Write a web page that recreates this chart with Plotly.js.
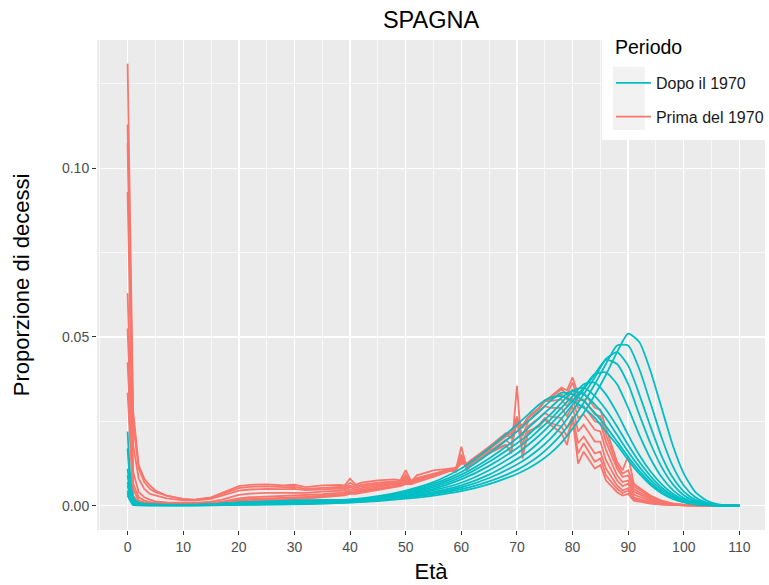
<!DOCTYPE html>
<html>
<head>
<meta charset="utf-8">
<script src="https://cdn.plot.ly/plotly-3.0.1.min.js"></script>
<style>html,body{margin:0;padding:0;overflow:hidden;background:#fff;}#chart{width:769px;height:585px;}</style>
</head>
<body>
<div id="chart"></div>
<script>
// Ages (x) for the "Prima del 1970" series
const etaPrima = [0,1,2,3,4,5,7,10,12,15,17,20,22,25,28,30,32,35,38,39,40,41,42,45,48,49,50,51,52,55,58,59,60,61,62,65,68,69,70,71,72,74,75,76,78,79,80,81,82,84,85,86,88,89,90,91,92,94,96,98,100,102,105,110];
const prima1 = [0.131,0.028,0.012,0.008,0.006,0.0045,0.003,0.002,0.0018,0.0025,0.0038,0.0058,0.0062,0.0063,0.006,0.0062,0.0055,0.006,0.0062,0.006,0.008,0.0062,0.0068,0.0075,0.0078,0.0075,0.0105,0.0072,0.009,0.0105,0.011,0.0105,0.0175,0.011,0.0135,0.0165,0.018,0.0155,0.0355,0.014,0.022,0.0235,0.0255,0.024,0.0215,0.018,0.026,0.0125,0.016,0.011,0.012,0.0075,0.004,0.003,0.0035,0.0015,0.0012,0.0006,0.0003,0.00015,0.0001,0.00005,0.00002,0];
const prima2 = [0.113,0.024,0.011,0.007,0.005,0.004,0.003,0.0019,0.0017,0.0023,0.0035,0.0052,0.0056,0.0057,0.0055,0.0056,0.005,0.0054,0.0056,0.0055,0.0068,0.0058,0.0062,0.0068,0.0072,0.007,0.0092,0.0068,0.0082,0.0095,0.0105,0.010,0.0152,0.0105,0.0125,0.0155,0.018,0.016,0.0265,0.0155,0.0215,0.024,0.026,0.0245,0.0235,0.0205,0.0255,0.0155,0.0185,0.013,0.014,0.009,0.005,0.0038,0.0045,0.002,0.0016,0.0008,0.0004,0.0002,0.0001,0.00005,0.00002,0];
const prima3 = [0.1075,0.018,0.008,0.005,0.0035,0.003,0.0022,0.0016,0.0015,0.002,0.003,0.0045,0.0048,0.005,0.0049,0.005,0.0046,0.0049,0.0051,0.005,0.006,0.0053,0.0057,0.0063,0.0068,0.0066,0.0085,0.0066,0.0078,0.0092,0.0105,0.0102,0.0145,0.0108,0.0128,0.016,0.0195,0.018,0.0245,0.018,0.0235,0.026,0.0275,0.0265,0.026,0.023,0.0265,0.0185,0.0205,0.0155,0.016,0.011,0.006,0.0045,0.0052,0.0025,0.002,0.001,0.0005,0.00025,0.0001,0.00005,0.00002,0];
const prima4 = [0.093,0.01,0.004,0.0025,0.0018,0.0013,0.001,0.0008,0.0008,0.0012,0.0018,0.0032,0.0036,0.0038,0.0038,0.004,0.0038,0.0042,0.0045,0.0045,0.0055,0.0048,0.0052,0.006,0.0066,0.0065,0.0082,0.0066,0.0078,0.0092,0.0108,0.0106,0.0145,0.0115,0.0135,0.0172,0.021,0.020,0.026,0.0205,0.025,0.0278,0.0295,0.029,0.029,0.0265,0.0295,0.022,0.024,0.019,0.019,0.0135,0.0075,0.0058,0.0065,0.0033,0.0027,0.0014,0.0007,0.0003,0.00015,0.00006,0.00002,0];
const prima5 = [0.063,0.0065,0.0025,0.0015,0.0011,0.0009,0.0007,0.0006,0.0006,0.0008,0.0012,0.0022,0.0025,0.0027,0.0028,0.003,0.003,0.0034,0.0038,0.0039,0.0048,0.0043,0.0047,0.0056,0.0064,0.0065,0.0078,0.0067,0.0078,0.0093,0.011,0.0112,0.014,0.0122,0.0138,0.0175,0.0215,0.0215,0.0262,0.023,0.026,0.029,0.031,0.031,0.0315,0.0295,0.032,0.026,0.027,0.0225,0.022,0.0165,0.009,0.007,0.0075,0.0042,0.0034,0.0018,0.0009,0.0004,0.0002,0.00008,0.00002,0];
const prima6 = [0.0525,0.005,0.0015,0.001,0.0008,0.0007,0.0005,0.0005,0.0005,0.0007,0.001,0.0018,0.002,0.0022,0.0023,0.0025,0.0026,0.003,0.0034,0.0035,0.0042,0.0039,0.0043,0.0052,0.006,0.0062,0.0073,0.0066,0.0075,0.009,0.0108,0.0112,0.0135,0.0124,0.0138,0.0172,0.021,0.0215,0.025,0.0235,0.0262,0.029,0.0312,0.0315,0.033,0.0315,0.0345,0.029,0.0295,0.025,0.0245,0.019,0.011,0.0085,0.009,0.005,0.004,0.0022,0.0011,0.0005,0.0002,0.00008,0.00002,0];
const prima7 = [0.0425,0.003,0.001,0.0007,0.0006,0.0005,0.0004,0.0004,0.0004,0.0006,0.0009,0.0015,0.0017,0.0019,0.002,0.0022,0.0024,0.0028,0.0032,0.0033,0.0038,0.0037,0.004,0.0049,0.0058,0.006,0.0068,0.0065,0.0072,0.0088,0.0106,0.011,0.013,0.0125,0.0138,0.017,0.0208,0.0215,0.0245,0.0238,0.0262,0.029,0.031,0.032,0.0345,0.033,0.0365,0.031,0.0315,0.027,0.0265,0.021,0.012,0.0095,0.0105,0.0058,0.0047,0.0026,0.0013,0.0006,0.00025,0.0001,0.00003,0];
const prima8 = [0.0335,0.002,0.0007,0.0005,0.0004,0.0004,0.0003,0.0003,0.0003,0.0005,0.0008,0.0013,0.0014,0.0015,0.0017,0.0019,0.0021,0.0025,0.003,0.0031,0.0035,0.0035,0.0038,0.0046,0.0055,0.0058,0.0064,0.0064,0.007,0.0085,0.0103,0.0108,0.0125,0.0124,0.0136,0.0167,0.0205,0.0213,0.024,0.0238,0.026,0.0288,0.031,0.0322,0.035,0.0342,0.038,0.033,0.0335,0.029,0.0285,0.023,0.013,0.0105,0.0148,0.0065,0.0053,0.003,0.0015,0.0007,0.0003,0.0001,0.00003,0];

// Ages (x) for the "Dopo il 1970" series
const etaDopo = [0,1,2,3,5,10,15,20,25,30,35,40,45,50,55,60,65,70,72,74,76,78,80,82,84,86,88,90,92,94,96,98,100,102,104,106,108,110];
const dopo1 = [0.022,0.0025,0.0009,0.0006,0.0004,0.0003,0.0004,0.0007,0.0008,0.0009,0.0012,0.0018,0.0028,0.0045,0.007,0.011,0.017,0.024,0.027,0.030,0.032,0.0325,0.031,0.029,0.026,0.022,0.018,0.0135,0.0095,0.0062,0.0037,0.002,0.001,0.0004,0.00015,0.00005,0.00001,0];
const dopo2 = [0.017,0.0015,0.0007,0.0005,0.0003,0.00025,0.0004,0.0007,0.0008,0.0009,0.0011,0.0017,0.0026,0.0042,0.0065,0.010,0.0155,0.022,0.025,0.028,0.031,0.0335,0.033,0.031,0.0275,0.0235,0.019,0.0145,0.0103,0.0068,0.0041,0.0022,0.0011,0.0005,0.0002,0.00006,0.00002,0];
const dopo3 = [0.011,0.0009,0.0005,0.0004,0.0003,0.0002,0.0004,0.0008,0.0009,0.0009,0.0011,0.0016,0.0024,0.0039,0.006,0.0092,0.014,0.020,0.023,0.026,0.029,0.032,0.034,0.033,0.030,0.026,0.021,0.016,0.0115,0.0077,0.0047,0.0026,0.0013,0.0006,0.00023,0.00008,0.00002,0];
const dopo4 = [0.009,0.0007,0.0004,0.0003,0.0002,0.0002,0.0004,0.0009,0.0011,0.0012,0.0013,0.0016,0.0023,0.0036,0.0055,0.0085,0.013,0.0185,0.021,0.024,0.027,0.0305,0.034,0.035,0.0325,0.0285,0.0235,0.018,0.013,0.0088,0.0054,0.003,0.0015,0.0007,0.00028,0.0001,0.00003,0];
const dopo5 = [0.007,0.0006,0.0003,0.0003,0.0002,0.0002,0.0004,0.001,0.0013,0.0015,0.0016,0.0018,0.0023,0.0034,0.005,0.0078,0.0118,0.017,0.0195,0.0225,0.0255,0.029,0.0325,0.036,0.0365,0.033,0.0275,0.021,0.015,0.0102,0.0064,0.0036,0.0018,0.0008,0.00033,0.00012,0.00004,0];
const dopo6 = [0.006,0.0005,0.0003,0.0002,0.0002,0.00015,0.0003,0.0008,0.0012,0.0016,0.0017,0.0018,0.0022,0.0031,0.0046,0.0068,0.0105,0.0155,0.018,0.0208,0.024,0.0275,0.031,0.035,0.039,0.0395,0.036,0.029,0.021,0.014,0.0085,0.0047,0.0023,0.001,0.0004,0.00014,0.00004,0];
const dopo7 = [0.0045,0.0004,0.0002,0.0002,0.00015,0.0001,0.0003,0.0006,0.0008,0.001,0.0012,0.0015,0.002,0.0028,0.0041,0.006,0.0092,0.0138,0.016,0.0188,0.022,0.0258,0.030,0.0345,0.039,0.0432,0.042,0.036,0.027,0.0185,0.0115,0.0064,0.0031,0.0013,0.0005,0.00017,0.00005,0];
const dopo8 = [0.004,0.0003,0.0002,0.00015,0.0001,0.0001,0.0002,0.0004,0.0005,0.0007,0.0009,0.0012,0.0018,0.0026,0.0037,0.0054,0.0082,0.0122,0.0143,0.0168,0.0198,0.0235,0.028,0.033,0.038,0.0435,0.0455,0.0415,0.033,0.0235,0.0148,0.0084,0.0042,0.0018,0.0007,0.00023,0.00006,0];
const dopo9 = [0.0035,0.0003,0.00015,0.0001,0.0001,0.00008,0.00015,0.0003,0.0004,0.0005,0.0007,0.001,0.0016,0.0024,0.0034,0.0049,0.0072,0.0106,0.0125,0.0148,0.0177,0.0212,0.0255,0.0305,0.036,0.042,0.0475,0.0475,0.0405,0.0305,0.0203,0.0118,0.006,0.0026,0.001,0.00033,0.00009,0];
const dopo10 = [0.003,0.00025,0.00012,0.0001,0.00008,0.00007,0.00012,0.00025,0.0003,0.0004,0.0006,0.0009,0.0014,0.0021,0.003,0.0043,0.0064,0.0094,0.011,0.013,0.0155,0.0187,0.0228,0.0275,0.0328,0.0388,0.0455,0.051,0.0485,0.040,0.029,0.018,0.0095,0.0042,0.0016,0.0005,0.00012,0];

const seriePrima = [prima1, prima2, prima3, prima4, prima5, prima6, prima7, prima8];
const serieDopo = [dopo1, dopo2, dopo3, dopo4, dopo5, dopo6, dopo7, dopo8, dopo9, dopo10];
const nomi = ['Dopo il 1970', 'Prima del 1970'];
const titoloLegenda = 'Periodo';
const colori = {dopo: '#00BFC4', prima: '#F8766D'};

const traces = [];
seriePrima.forEach((y, i) => traces.push({
  type: 'scatter', mode: 'lines', x: etaPrima, y: y,
  line: {color: colori.prima, width: 1.8},
  name: nomi[1], legendgroup: 'prima', legendrank: 2, showlegend: i === 0
}));
serieDopo.forEach((y, i) => traces.push({
  type: 'scatter', mode: 'lines', x: etaDopo, y: y,
  line: {color: colori.dopo, width: 1.8, shape: 'spline', smoothing: 0.6},
  name: nomi[0], legendgroup: 'dopo', legendrank: 1, showlegend: i === 0
}));

const font = 'Liberation Sans, Arial, Helvetica, sans-serif';
const layout = {
  width: 769, height: 585,
  margin: {l: 97, r: 0, t: 40, b: 55, pad: 0},
  paper_bgcolor: '#FFFFFF', plot_bgcolor: '#EBEBEB',
  font: {family: font, color: '#000000'},
  title: {text: 'SPAGNA', font: {size: 23.5, color: '#000000', family: font}, x: 0.5, xref: 'paper', xanchor: 'center', y: 1 - 20/585, yref: 'container', yanchor: 'middle'},
  xaxis: {
    range: [-5.5, 114.6], tickmode: 'linear', tick0: 0, dtick: 10,
    ticks: 'outside', ticklen: 4, tickwidth: 1, tickcolor: '#333333',
    tickfont: {size: 14, color: '#4D4D4D', family: font},
    showgrid: true, gridcolor: '#FFFFFF', gridwidth: 1.4,
    minor: {dtick: 5, tick0: 0, showgrid: true, gridcolor: '#FFFFFF', gridwidth: 0.7, ticks: ''},
    zeroline: false, showline: false, automargin: false,
    title: {text: 'Età', font: {size: 22, color: '#000000', family: font}, standoff: 9}
  },
  yaxis: {
    range: [-0.0072, 0.138], tickmode: 'linear', tick0: 0, dtick: 0.05, tickformat: '.2f',
    ticks: 'outside', ticklen: 4, tickwidth: 1, tickcolor: '#333333',
    tickfont: {size: 14, color: '#4D4D4D', family: font},
    showgrid: true, gridcolor: '#FFFFFF', gridwidth: 1.4,
    minor: {dtick: 0.025, tick0: 0, showgrid: true, gridcolor: '#FFFFFF', gridwidth: 0.7, ticks: ''},
    zeroline: false, showline: false, automargin: false,
    title: {text: 'Proporzione di decessi', font: {size: 22, color: '#000000', family: font}, standoff: 26}
  },
  legend: {
    x: (614 - 97) / 672, xanchor: 'left', y: (530 - 66) / 490, yanchor: 'top',
    bgcolor: 'rgba(0,0,0,0)', borderwidth: 0,
    font: {size: 16, color: '#1A1A1A', family: font},
    traceorder: 'grouped', tracegroupgap: 10, itemwidth: 35
  },
  annotations: [
    {text: titoloLegenda, xref: 'paper', yref: 'paper', x: (616 - 97) / 672, y: (530 - 47) / 490, xanchor: 'left', yanchor: 'middle', showarrow: false, font: {size: 19.5, color: '#000000', family: font}}
  ],
  shapes: [
    {type: 'rect', xref: 'paper', yref: 'paper', x0: (605 - 97) / 672, x1: 1.0, y0: (530 - 140) / 490, y1: 1.0, fillcolor: '#FFFFFF', line: {width: 0}, layer: 'above'},
    {type: 'rect', xref: 'paper', yref: 'paper', x0: (616 - 97) / 672, x1: (648 - 97) / 672, y0: (530 - 130) / 490, y1: (530 - 66.7) / 490, fillcolor: '#F2F2F2', line: {width: 0}, layer: 'above'}
  ],
  hovermode: false
};

Plotly.newPlot('chart', traces, layout, {staticPlot: true, displayModeBar: false});
</script>
</body>
</html>
